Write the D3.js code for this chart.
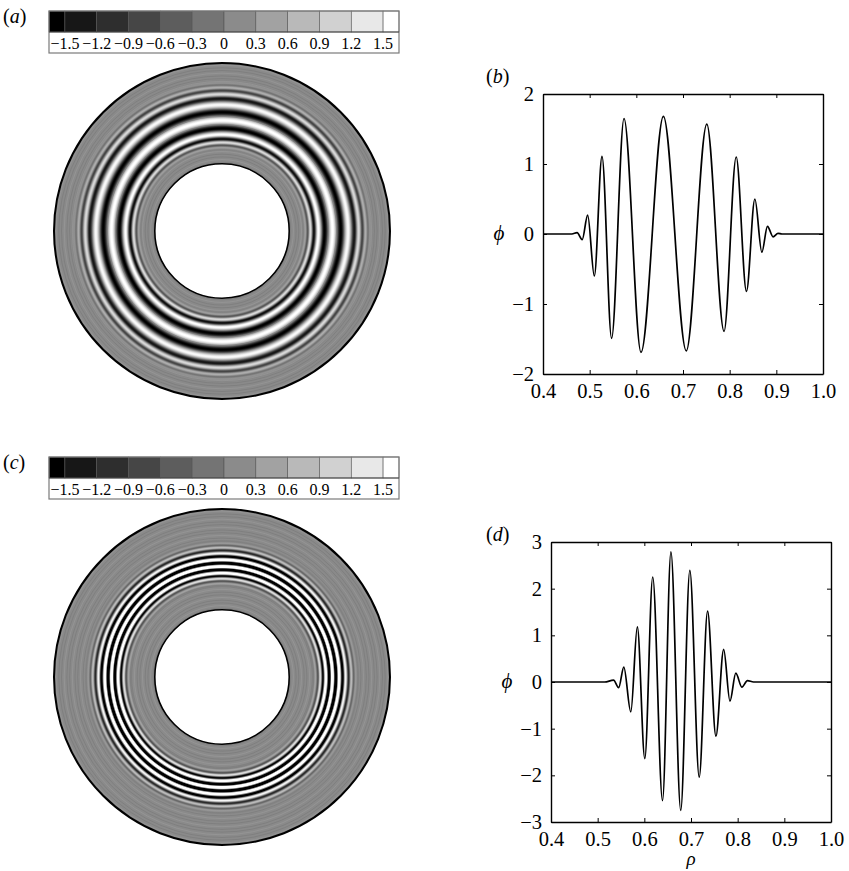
<!DOCTYPE html>
<html>
<head>
<meta charset="utf-8">
<script src="https://cdn.jsdelivr.net/npm/d3@7"></script>
<style>
  body { margin: 0; background: #fff; }
  svg { display: block; }
  text { font-family: "Liberation Serif", "Times New Roman", serif; fill: #000; }
</style>
</head>
<body>
<svg id="fig" width="849" height="871"></svg>
<script>
// Radial profile phi(rho): extrema of the wave packet, first mode (b)
const rhoB = [0.400, 0.462, 0.473, 0.484, 0.4957, 0.510, 0.5264, 0.547, 0.5736, 0.610, 0.658, 0.707, 0.751, 0.788, 0.814, 0.836, 0.854, 0.869, 0.881, 0.893, 0.9036, 0.912, 1.000];
const phiB = [0, 0, 0.02, -0.08, 0.27, -0.60, 1.11, -1.49, 1.65, -1.69, 1.68, -1.67, 1.57, -1.39, 1.10, -0.82, 0.50, -0.26, 0.11, -0.04, 0.01, 0, 0];

// Radial profile phi(rho): extrema of the wave packet, second mode (d)
const rhoD = [0.400, 0.515, 0.534, 0.545, 0.556, 0.571, 0.585, 0.601, 0.618, 0.639, 0.657, 0.678, 0.6975, 0.7176, 0.7355, 0.7534, 0.770, 0.7835, 0.796, 0.809, 0.821, 0.834, 1.000];
const phiD = [0, 0, 0.04, -0.12, 0.32, -0.64, 1.18, -1.64, 2.25, -2.54, 2.79, -2.75, 2.39, -2.04, 1.52, -1.16, 0.70, -0.41, 0.19, -0.11, 0.03, 0, 0];

// Colour bar: tick values and the limits of the shaded range
const colorbarTicks = [-1.5, -1.2, -0.9, -0.6, -0.3, 0, 0.3, 0.6, 0.9, 1.2, 1.5];
const colorbarRange = [-1.65, 1.65];

// Axis ticks
const rhoTicks = [0.4, 0.5, 0.6, 0.7, 0.8, 0.9, 1.0];
const phiTicksB = [-2, -1, 0, 1, 2];
const phiTicksD = [-3, -2, -1, 0, 1, 2, 3];

const svg = d3.select("#fig");
const defs = svg.append("defs");

// Continuous grey map used for the annulus fields
const grey = d3.scaleLinear()
  .domain([colorbarRange[0], 0, colorbarRange[1]])
  .range(["#000000", "#8a8a8a", "#ffffff"])
  .clamp(true);

// Stepped grey levels shown in the colour bar
const nLevels = colorbarTicks.length + 1;
const levelColors = d3.range(nLevels).map(i => {
  const v = Math.round(255 * i / (nLevels - 1));
  return d3.rgb(v, v, v).formatHex();
});

const fmtTick = v => v === 0 ? "0" : d3.format(".1f")(v);

function panelLabel(x, y, letter) {
  const t = svg.append("text").attr("x", x).attr("y", y).attr("font-size", 20);
  t.append("tspan").text("(");
  t.append("tspan").attr("font-style", "italic").text(letter);
  t.append("tspan").text(")");
}

function colorbar(x0, x1, y0) {
  const g = svg.append("g");
  const sx = d3.scaleLinear().domain(colorbarRange).range([x0, x1]);
  const edges = [colorbarRange[0], ...colorbarTicks, colorbarRange[1]];
  const stripH = 21, boxH = 42;
  g.append("rect").attr("x", x0).attr("y", y0).attr("width", x1 - x0).attr("height", boxH)
    .attr("fill", "#fff");
  g.selectAll("rect.cell").data(d3.range(nLevels)).join("rect")
    .attr("class", "cell")
    .attr("x", i => sx(edges[i]))
    .attr("y", y0)
    .attr("width", i => sx(edges[i + 1]) - sx(edges[i]))
    .attr("height", stripH)
    .attr("fill", i => levelColors[i])
    .attr("stroke", "#555")
    .attr("stroke-width", 0.6);
  g.append("rect").attr("x", x0).attr("y", y0).attr("width", x1 - x0).attr("height", boxH)
    .attr("fill", "none").attr("stroke", "#7a7a7a").attr("stroke-width", 1.2);
  g.append("line").attr("x1", x0).attr("x2", x1).attr("y1", y0 + stripH).attr("y2", y0 + stripH)
    .attr("stroke", "#444").attr("stroke-width", 1);
  g.selectAll("text").data(colorbarTicks).join("text")
    .attr("x", d => sx(d))
    .attr("y", y0 + 38)
    .attr("text-anchor", "middle")
    .attr("font-size", 16)
    .text(fmtTick);
}

function profilePlot(rho, phi, box, phiTicks, showRhoLabel, letter, labelPos) {
  const x = d3.scaleLinear().domain([0.4, 1.0]).range([box.x0, box.x1]);
  const y = d3.scaleLinear().domain([phiTicks[0], phiTicks[phiTicks.length - 1]]).range([box.y1, box.y0]);
  const g = svg.append("g");

  const styleAxis = sel => {
    sel.attr("font-family", null).attr("font-size", null);
    sel.selectAll(".domain").attr("stroke", "#000").attr("stroke-width", 1.4);
    sel.selectAll(".tick line").attr("stroke", "#000").attr("stroke-width", 1);
    sel.selectAll("text").style("font-size", "20.5px").attr("fill", "#000");
  };

  g.append("g").attr("transform", `translate(0,${box.y1})`)
    .call(d3.axisBottom(x).tickValues(rhoTicks).tickFormat(d3.format(".1f"))
      .tickSizeInner(-4).tickSizeOuter(0).tickPadding(9))
    .call(styleAxis)
    .call(s => s.selectAll(".tick text").attr("dy", "0.72em"));
  g.append("g").attr("transform", `translate(0,${box.y0})`)
    .call(d3.axisTop(x).tickValues(rhoTicks).tickFormat("").tickSizeInner(-4).tickSizeOuter(0))
    .call(styleAxis);
  g.append("g").attr("transform", `translate(${box.x0},0)`)
    .call(d3.axisLeft(y).tickValues(phiTicks).tickFormat(d3.format("d"))
      .tickSizeInner(-4).tickSizeOuter(0).tickPadding(9))
    .call(styleAxis);
  g.append("g").attr("transform", `translate(${box.x1},0)`)
    .call(d3.axisRight(y).tickValues(phiTicks).tickFormat("").tickSizeInner(-4).tickSizeOuter(0))
    .call(styleAxis);

  const line = d3.line()
    .x((d, i) => x(rho[i]))
    .y((d, i) => y(phi[i]))
    .curve(d3.curveMonotoneX);
  const path = g.append("path")
    .attr("d", line(rho))
    .attr("fill", "none")
    .attr("stroke", "#000")
    .attr("stroke-width", 1.7)
    .attr("stroke-linejoin", "round");

  // axis titles
  svg.append("text").attr("x", box.x0 - 44).attr("y", (box.y0 + box.y1) / 2 + 6)
    .attr("text-anchor", "middle").attr("font-size", 21).attr("font-style", "italic").text("ϕ");
  if (showRhoLabel) {
    svg.append("text").attr("x", (box.x0 + box.x1) / 2).attr("y", box.y1 + 43)
      .attr("text-anchor", "middle").attr("font-size", 19).attr("font-style", "italic").text("ρ");
  }
  panelLabel(labelPos[0], labelPos[1], letter);

  // sample the drawn curve back into (rho, phi) pairs
  const node = path.node();
  const len = node.getTotalLength();
  const samples = d3.range(0, len + 0.01, len / 2400).map(l => {
    const p = node.getPointAtLength(Math.min(l, len));
    return [x.invert(p.x), y.invert(p.y)];
  });
  return samples;
}

function annulus(cx, cy, R, samples, id) {
  const grad = defs.append("radialGradient")
    .attr("id", id)
    .attr("gradientUnits", "userSpaceOnUse")
    .attr("cx", cx).attr("cy", cy).attr("fx", cx).attr("fy", cy).attr("r", R);
  let last = -1;
  samples.forEach(([r, v]) => {
    const o = Math.max(0, Math.min(1, r));
    if (o <= last) return;
    last = o;
    grad.append("stop").attr("offset", o).attr("stop-color", grey(v));
  });
  const g = svg.append("g");
  g.append("circle").attr("cx", cx).attr("cy", cy).attr("r", R).attr("fill", `url(#${id})`);

  // fine concentric streaks where the field is close to zero
  const bis = d3.bisector(d => d[0]).left;
  const radii = d3.range(0.4 * R + 1.5, R - 0.5, 2.7);
  g.selectAll("circle.streak").data(radii.filter(rr => {
      const s = samples[Math.min(samples.length - 1, bis(samples, rr / R))];
      return Math.abs(s[1]) < 0.04;
    })).join("circle")
    .attr("class", "streak")
    .attr("cx", cx).attr("cy", cy).attr("r", d => d)
    .attr("fill", "none")
    .attr("stroke", (d, i) => i % 3 === 1 ? "#9c9c9c" : "#767676")
    .attr("stroke-width", 0.8)
    .attr("stroke-opacity", 0.7);

  g.append("circle").attr("cx", cx).attr("cy", cy).attr("r", 0.4 * R)
    .attr("fill", "#fff").attr("stroke", "#000").attr("stroke-width", 1.6);
  g.append("circle").attr("cx", cx).attr("cy", cy).attr("r", R)
    .attr("fill", "none").attr("stroke", "#000").attr("stroke-width", 2);
}

// top row
const sampB = profilePlot(rhoB, phiB, { x0: 543, x1: 823, y0: 94, y1: 374 }, phiTicksB, false, "b", [486, 83]);
colorbar(49, 399, 11);
annulus(222, 231, 168, sampB, "fieldA");
panelLabel(3, 23, "a");

// bottom row
const sampD = profilePlot(rhoD, phiD, { x0: 551, x1: 831, y0: 542, y1: 822 }, phiTicksD, true, "d", [486, 541]);
colorbar(49, 399, 457);
annulus(222, 677, 168, sampD, "fieldC");
panelLabel(3, 469, "c");
</script>
</body>
</html>
